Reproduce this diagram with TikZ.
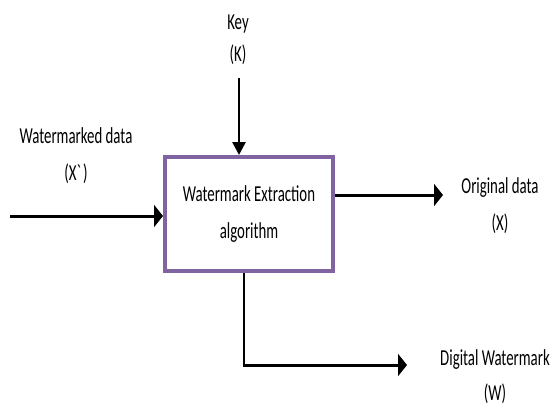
\documentclass[tikz,border=0pt]{standalone}
\usepackage{tikz}
\usetikzlibrary{arrows.meta, positioning}
\usepackage{fontspec}
\setmainfont{Carlito}[FakeStretch=0.65]
\usepackage{xcolor}
\definecolor{boxpurple}{HTML}{8064A2}

\begin{document}
\begin{tikzpicture}[
	x=0.02cm, y=-0.02cm,
	every node/.style={font=\fontsize{13}{21}\selectfont, align=center},
	algo/.style={draw=boxpurple, line width=2.3pt, fill=white, minimum width=3.36cm, minimum height=2.28cm, inner sep=0pt},
	vflow/.style={draw, line width=1.5pt, -{Triangle[length=0.26cm, width=0.26cm]}},
	hflow/.style={draw, line width=1.7pt, -{Triangle[length=0.18cm, width=0.44cm]}}
	]
	\useasboundingbox (0,0) rectangle (551,407);
	
	% Nodes of the diagram
	\node[algo] (algo) at (249,214) {Watermark Extraction\\algorithm};
	\node[font=\fontsize{13}{18}\selectfont] (key) at (238,40) {Key\\(K)};
	\node (wmd) at (76,156) {Watermarked data\\(X\textasciigrave)};
	\node (orig) at (500,206) {Original data\\(X)};
	\node[font=\fontsize{13}{20}\selectfont] (dw) at (495,377) {Digital Watermark\\(W)};
	
	% Ends of the connectors
	\coordinate (kin) at (239,78);
	\coordinate (xin) at (10,216);
	\coordinate (xout) at (443,195);
	\coordinate (wbend) at (244,365);
	\coordinate (wout) at (407,365);
	
	% Connectors
	\path[vflow] (kin) -- (kin |- algo.north);
	\path[hflow] (xin) -- (xin -| algo.west);
	\path[hflow] (algo.east |- xout) -- (xout);
	\path[hflow] (wbend |- algo.south) -- (wbend) -- (wout);
	
\end{tikzpicture}
\end{document}
